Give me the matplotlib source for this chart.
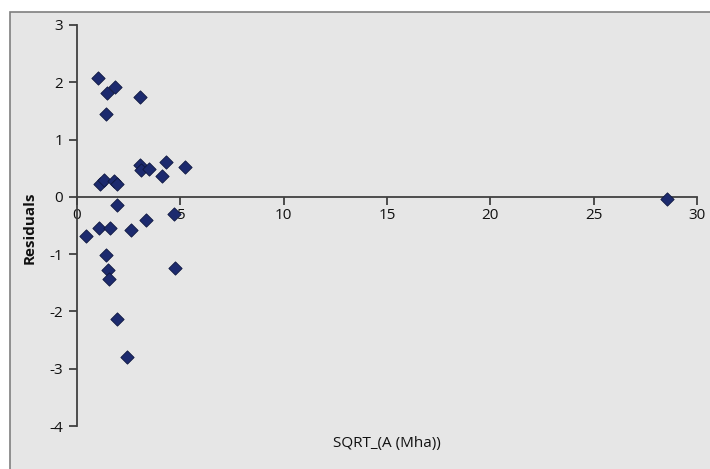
import matplotlib
matplotlib.use("Agg")
import matplotlib.pyplot as plt
from matplotlib.patches import Rectangle

# Data
sqrt_area = [1.03, 1.43, 1.84, 3.06, 1.41,
             1.10, 1.30, 1.80, 1.95,
             3.04, 3.10, 3.47, 4.29, 4.13, 5.23,
             1.95, 4.67, 3.35, 0.42, 1.08, 1.62, 2.60,
             1.42, 1.50, 1.55, 4.73, 1.93, 2.43,
             28.55]
residuals = [2.07, 1.82, 1.91, 1.74, 1.45,
             0.22, 0.30, 0.28, 0.23,
             0.55, 0.47, 0.49, 0.60, 0.36, 0.52,
             -0.14, -0.30, -0.41, -0.68, -0.55, -0.55, -0.57,
             -1.01, -1.27, -1.44, -1.24, -2.14, -2.80,
             -0.03]
x_ticks = [0, 5, 10, 15, 20, 25, 30]
y_ticks = [-4, -3, -2, -1, 0, 1, 2, 3]

plt.rcParams['font.family'] = ['Open Sans', 'DejaVu Sans']

W, H = 710, 469
fig = plt.figure(figsize=(W / 100, H / 100), dpi=100)
fig.patch.set_facecolor('white')

# Chart area background with border
bg = Rectangle((10 / W, -0.05), 1.0, 1 - 12 / H + 0.05, transform=fig.transFigure,
               facecolor='#e6e6e6', edgecolor='#7f7f7f', linewidth=1.2, zorder=-10)
fig.patches.append(bg)

ax = fig.add_axes([77 / W, 1 - 426 / H, 620 / W, 401 / H])
ax.set_zorder(5)
ax.set_facecolor('none')
ax.set_xlim(0, 30)
ax.set_ylim(-4, 3)

ax.scatter(sqrt_area, residuals, marker='D', s=46, color='#1c2a6e',
           edgecolors='#0f1840', linewidths=0.6, zorder=3, clip_on=False)

for s in ['top', 'right']:
    ax.spines[s].set_visible(False)
ax.spines['bottom'].set_position(('data', 0))
for s in ['left', 'bottom']:
    ax.spines[s].set_color('#404040')
    ax.spines[s].set_linewidth(1.3)

ax.set_xticks(x_ticks)
ax.set_yticks(y_ticks)
ax.set_xticklabels([str(t) for t in x_ticks])
ax.set_yticklabels([str(t) for t in y_ticks])
ax.tick_params(axis='both', direction='out', length=6, width=1.3, color='#404040',
               labelsize=11, labelcolor='#111111')
ax.tick_params(axis='y', pad=4)
ax.tick_params(axis='x', pad=2)

fig.text(30 / W, 1 - 228 / H, 'Residuals', rotation=90, ha='center', va='center',
         fontsize=11, fontweight='bold', color='#111111')
fig.text(387 / W, 1 - 443 / H, 'SQRT_(A (Mha))', ha='center', va='center',
         fontsize=11, color='#111111')

fig.savefig('out.png', dpi=100)
